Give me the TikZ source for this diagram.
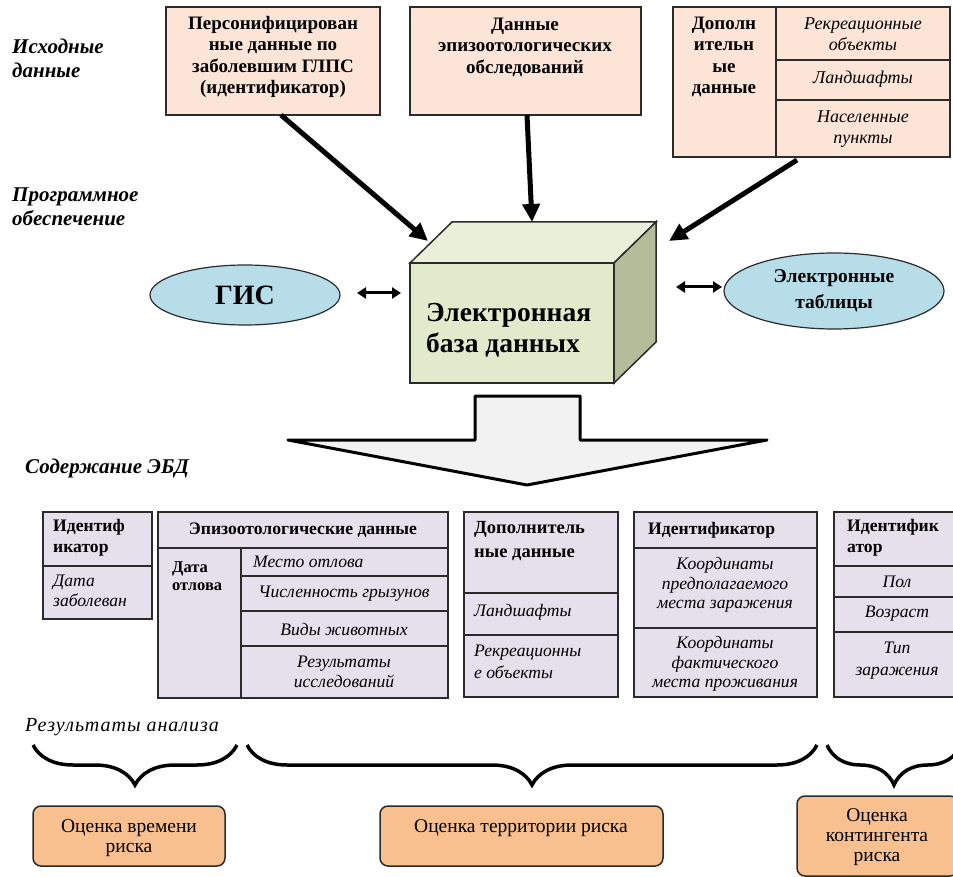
\documentclass[tikz,border=0pt]{standalone}
\usepackage{fontspec}
\setmainfont{Liberation Serif}
\newfontfamily\lsfont[LetterSpace=5]{Liberation Serif}
\usetikzlibrary{shapes.geometric,arrows.meta,decorations.pathreplacing}
\definecolor{peach}{HTML}{FCE4D6}
\definecolor{cubefr}{HTML}{E1EACB}
\definecolor{cubetop}{HTML}{E9EFD9}
\definecolor{cubeside}{HTML}{B4BD99}
\definecolor{ellblue}{HTML}{B7DDE8}
\definecolor{arrgray}{HTML}{F2F2F2}
\definecolor{lav}{HTML}{E5E0EC}
\definecolor{resor}{HTML}{F8C08F}
\definecolor{edge}{HTML}{2B2B2B}
\newcommand\mkbox[6]{%
  \pgfmathsetmacro\mkw{#5-#3}\pgfmathsetmacro\mkh{#6-#4}%
  \pgfmathsetmacro\mkx{(#3+#5)/2}\pgfmathsetmacro\mky{(#4+#6)/2}%
  \node[#2, minimum width=\mkw pt, minimum height=\mkh pt, inner sep=0pt, outer sep=0pt] (#1) at (\mkx,\mky) {};}
\begin{document}
\begin{tikzpicture}[x=1pt,y=-1pt,
  lbl/.style={font=\fontsize{21}{24}\selectfont\bfseries\itshape, align=left, anchor=west, inner sep=0pt},
  topbox/.style={draw=edge, line width=1.5pt, fill=peach, rectangle},
  tb/.style={font=\fontsize{19}{21.5}\selectfont\bfseries, align=center, inner sep=0pt},
  ti/.style={font=\fontsize{18}{21.5}\selectfont\itshape, align=center, inner sep=0pt},
  ell/.style={draw=edge, line width=1.2pt, fill=ellblue, ellipse, inner sep=0pt},
  tbl/.style={draw=edge, line width=2pt, fill=lav, rectangle},
  th/.style={font=\fontsize{17.6}{20.5}\selectfont\bfseries, align=left, inner sep=0pt},
  tit/.style={font=\fontsize{17.6}{19.5}\selectfont\itshape, align=center, inner sep=0pt},
  res/.style={draw=edge, line width=1.5pt, fill=resor, rectangle, rounded corners=8pt},
  rt/.style={font=\fontsize{19.5}{20}\selectfont, align=center, inner sep=0pt},
  bigarr/.style={line width=5pt, -{Triangle[length=18pt,width=17pt]}},
  dblarr/.style={line width=3pt, {Triangle[length=9pt,width=11pt]}-{Triangle[length=9pt,width=11pt]}},
  brc/.style={line width=3.5pt, decorate, decoration={brace, mirror, amplitude=40pt}},
  tline/.style={draw=edge, line width=2pt},
  bline/.style={draw=edge, line width=1.5pt}]
\useasboundingbox (0,0) rectangle (953,877);

% left labels
\node[lbl] (l1) at (12,58) {Исходные\\данные};
\node[lbl] (l2) at (12,207) {Программное\\обеспечение};
\node[lbl] (l3) at (25,468) {Содержание ЭБД};
\node[lbl, font=\fontsize{20}{22}\selectfont\lsfont\itshape] (l4) at (25,727) {Результаты анализа};

% top boxes
\mkbox{b1}{topbox}{166}{7}{380}{115}
\node[tb] (t1) at (273,57) {Персонифицирован\\ные данные по\\заболевшим ГЛПС\\(идентификатор)};
\mkbox{b2}{topbox}{410}{7}{641}{115}
\node[tb] (t2) at (525,47) {Данные\\эпизоотологических\\обследований};
\mkbox{b3}{topbox}{673}{7}{950}{157}
\draw[bline] (776,7) -- (776,157);
\draw[bline] (776,60) -- (950,60);
\draw[bline] (776,100) -- (950,100);
\node[tb] (t3) at (724,57) {Дополн\\ительн\\ые\\данные};
\node[ti] (t4) at (863,34) {Рекреационные\\объекты};
\node[ti] (t5) at (863,79) {Ландшафты};
\node[ti] (t6) at (863,129) {Населенные\\пункты};

% cube
\mkbox{db}{draw=edge, line width=1.5pt, fill=cubefr, rectangle}{410}{263}{614}{383}
\draw[bline, fill=cubetop] (db.north west) -- ++(42,-41) -- ++(204,0) -- (db.north east) -- cycle;
\draw[bline, fill=cubeside] (db.north east) -- ++(42,-41) -- ++(0,120) -- (db.south east) -- cycle;
\node[font=\fontsize{27.5}{31}\selectfont\bfseries, align=left, anchor=west, inner sep=0pt] (dbt) at (426,330) {Электронная\\база данных};

% ellipses
\node[ell, minimum width=190pt, minimum height=60pt, font=\fontsize{28}{30}\selectfont\bfseries] (gis) at (245,295) {ГИС};
\node[ell, minimum width=220pt, minimum height=76pt, align=center, font=\fontsize{19.5}{26}\selectfont\bfseries] (et) at (834,291) {Электронные\\таблицы};

% connectors
\coordinate (a1s) at (281,115); \coordinate (a1e) at (428,241);
\coordinate (a2s) at (527,115); \coordinate (a2e) at (532,222);
\coordinate (a3s) at (797,160); \coordinate (a3e) at (669,241);
\draw[bigarr] (a1s) -- (a1e);
\draw[bigarr] (a2s) -- (a2e);
\draw[bigarr] (a3s) -- (a3e);
\coordinate (g1) at (357,293); \coordinate (g2) at (401,293);
\coordinate (e1) at (676,287); \coordinate (e2) at (722,287);
\draw[dblarr] (g1) -- (g2);
\draw[dblarr] (e1) -- (e2);

% block arrow
\draw[line width=3pt, fill=arrgray, line join=round] (475,396) -- (580,396) -- (580,440) -- (767,440) -- (527,485) -- (288,440) -- (475,440) -- cycle;

% table 1
\mkbox{tab1}{tbl}{43}{512}{152}{619}
\draw[tline] (43,566) -- (152,566);
\node[th, anchor=west] (h1) at (53,538) {Идентиф\\икатор};
\node[tit, anchor=west, align=left] (h1b) at (53,591) {Дата\\заболеван};

% table 2
\mkbox{tab2}{tbl}{158}{512}{448}{698}
\draw[tline] (158,548) -- (448,548);
\draw[tline] (241,548) -- (241,698);
\draw[tline] (241,576) -- (448,576);
\draw[tline] (241,611) -- (448,611);
\draw[tline] (241,646) -- (448,646);
\node[th, align=center] (h2) at (303,530) {Эпизоотологические данные};
\node[th, anchor=west, align=left, font=\fontsize{16.5}{18}\selectfont\bfseries] (h2a) at (172,576) {Дата\\отлова};
\node[tit, anchor=west] (h2b) at (253,562) {Место отлова};
\node[tit] (h2c) at (344,594) {Численность грызунов};
\node[tit] (h2d) at (344,629) {Виды животных};
\node[tit] (h2e) at (344,672) {Результаты\\исследований};

% table 3
\mkbox{tab3}{tbl}{464}{512}{618}{697}
\draw[tline] (464,593) -- (618,593);
\draw[tline] (464,635) -- (618,635);
\node[th, anchor=west, font=\fontsize{18.5}{24}\selectfont\bfseries] (h3) at (474,541) {Дополнитель\\ные данные};
\node[tit, anchor=west] (h3a) at (474,612) {Ландшафты};
\node[tit, anchor=west, align=left, font=\fontsize{17.6}{22}\selectfont\itshape] (h3b) at (474,662) {Рекреационны\\е объекты};

% table 4
\mkbox{tab4}{tbl}{634}{512}{817}{697}
\draw[tline] (634,548) -- (817,548);
\draw[tline] (634,628) -- (817,628);
\node[th, anchor=west] (h4) at (648,530) {Идентификатор};
\node[tit] (h4a) at (725,585) {Координаты\\предполагаемого\\места заражения};
\node[tit] (h4b) at (725,664) {Координаты\\фактического\\места проживания};

% table 5
\mkbox{tab5}{tbl}{834}{512}{962}{697}
\draw[tline] (834,566) -- (962,566);
\draw[tline] (834,597) -- (962,597);
\draw[tline] (834,632) -- (962,632);
\node[th, anchor=west] (h5) at (847,538) {Идентифик\\атор};
\node[tit] (h5a) at (897,582) {Пол};
\node[tit] (h5b) at (897,614) {Возраст};
\node[tit, font=\fontsize{17.6}{22}\selectfont\itshape] (h5c) at (897,661) {Тип\\заражения};

% braces
\coordinate (br1a) at (33,745); \coordinate (br1b) at (237,745);
\coordinate (br2a) at (247,745); \coordinate (br2b) at (817,745);
\coordinate (br3a) at (827,745); \coordinate (br3b) at (961,745);
\draw[brc] (br1a) -- (br1b);
\draw[brc] (br2a) -- (br2b);
\draw[brc] (br3a) -- (br3b);

% results
\mkbox{r1}{res}{33}{806}{225}{866}
\node[rt] (r1t) at (129,838) {Оценка времени\\риска};
\mkbox{r2}{res}{380}{806}{663}{866}
\node[rt] (r2t) at (521,828) {Оценка территории риска};
\mkbox{r3}{res}{797}{796}{958}{876}
\node[rt] (r3t) at (877,837) {Оценка\\контингента\\риска};
\end{tikzpicture}
\end{document}
